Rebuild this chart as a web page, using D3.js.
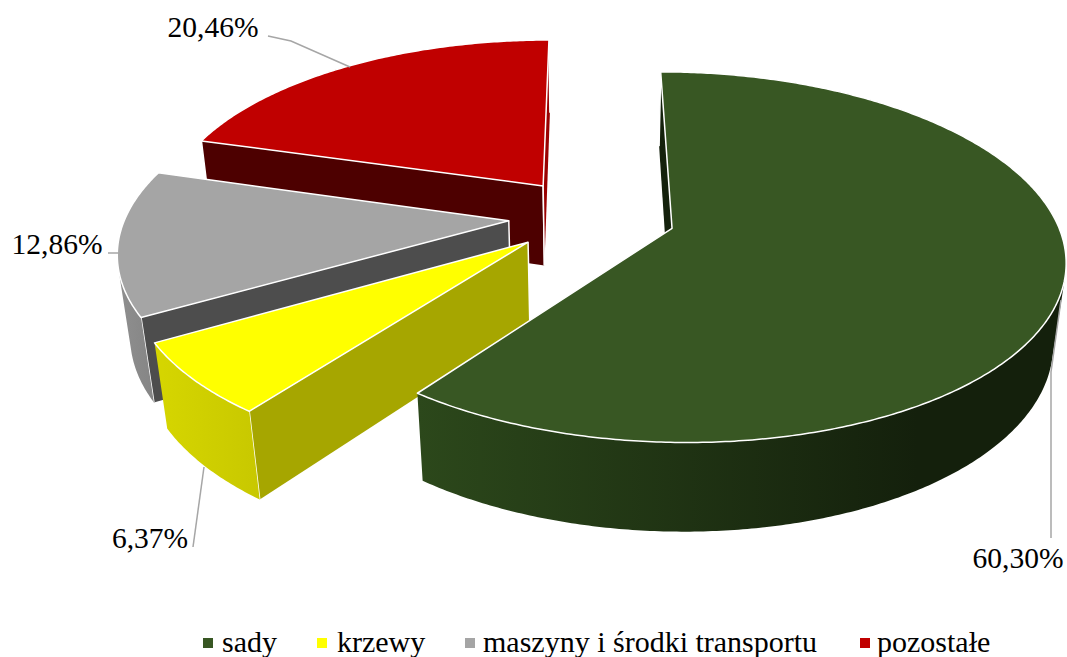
<!DOCTYPE html>
<html><head><meta charset="utf-8">
<script src="https://cdn.jsdelivr.net/npm/d3@7/dist/d3.min.js"></script>
<style>html,body{margin:0;padding:0;background:#fff}svg{display:block}text{font-family:"Liberation Serif","Times New Roman",serif;fill:#000}</style>
</head><body><div id="chart"></div>
<script>
const categories = ["sady","krzewy","maszyny i środki transportu","pozostałe"];
const values = [60.30,6.37,12.86,20.46];
const valueLabels = ["60,30%","6,37%","12,86%","20,46%"];
const topColors = ["#385723","#ffff00","#a5a5a5","#c00000"];
const legendColors = ["#385723","#ffff00","#a5a5a5","#c00000"];
const startCutColors = ["#14210c","#a6a600","#4d4d4d","#4d0000"];
const endCutColors = ["#14210c","#a6a600","#4d4d4d","#9a0000"];
const wallStops = [["#2c481b","#14200c"],["#d6d600","#c8c800"],["#8f8f8f","#858585"],["#8a0000","#8a0000"]];
const W=1067,H=657;
const startDeg=-0.1;
const cx=592, cy=216, A=383, B=177, p=0.154, q=0.027, D=83, ex=0.218;
const sx=d3.scaleLinear().domain([-1,1]).range([cx-A,cx+A]);
const sy=d3.scaleLinear().domain([-1,1]).range([cy+B,cy-B]);
const svg=d3.select("#chart").append("svg").attr("width",W).attr("height",H);
const defs=svg.append("defs");
const rad=Math.PI/180;
const pie=d3.pie().sort(null).value(d=>d).startAngle(startDeg*rad).endAngle(2*Math.PI+startDeg*rad);
const arcs=pie(values);
const line=d3.line();
function proj(a,r,d,m){
  const u=r*Math.sin(a)+ex*Math.sin(m), v=r*Math.cos(a)+ex*Math.cos(m);
  const w=1+p*v+q*d;
  return [sx(u/w), sy(v/w)+D*d/w];
}
function area(pts){return d3.polygonArea(pts);}
const order=[3,2,1,0];
const g=svg.append("g");
order.forEach(i=>{
  const s=arcs[i], m=(s.startAngle+s.endAngle)/2;
  const n=Math.max(8,Math.ceil((s.endAngle-s.startAngle)/0.01));
  const ang=d3.range(n+1).map(k=>s.startAngle+(s.endAngle-s.startAngle)*k/n);
  const topArc=ang.map(a=>proj(a,1,0,m));
  const apex=proj(0,0,0,m), apexB=proj(0,0,1,m);
  [[s.startAngle,1,startCutColors[i]],[s.endAngle,-1,endCutColors[i]]].forEach(([a,sign,col])=>{
    const q4=[apex,proj(a,1,0,m),proj(a,1,1,m),apexB];
    if(area(q4)*sign>0){
      g.append("path").attr("d",line(q4)+"Z").attr("fill",col);
      g.append("path").attr("d",line([apex,apexB])+line([proj(a,1,0,m),proj(a,1,1,m)])).attr("stroke","#fff").attr("stroke-width",1.5).attr("fill","none");
    }
  });
  const vis=[];
  for(let k=0;k<n;k++){
    const a0=ang[k],a1=ang[k+1];
    const qd=[proj(a0,1,0,m),proj(a1,1,0,m),proj(a1,1,1,m),proj(a0,1,1,m)];
    if(area(qd)>0) vis.push(k);
  }
  if(vis.length){
    const k0=vis[0],k1=vis[vis.length-1]+1;
    const tops=ang.slice(k0,k1+1).map(a=>proj(a,1,0,m));
    const bots=ang.slice(k0,k1+1).map(a=>proj(a,1,1,m)).reverse();
    const xs=tops.concat(bots).map(d=>d[0]);
    const id="wall"+i;
    const gr=defs.append("linearGradient").attr("id",id).attr("gradientUnits","userSpaceOnUse")
      .attr("x1",d3.min(xs)).attr("x2",i===0?d3.min(xs)+500:d3.max(xs)).attr("y1",0).attr("y2",0);
    gr.append("stop").attr("offset",0).attr("stop-color",wallStops[i][0]);
    gr.append("stop").attr("offset",1).attr("stop-color",wallStops[i][1]);
    g.append("path").attr("d",line(tops.concat(bots))+"Z").attr("fill",`url(#${id})`);
  }
  g.append("path").attr("d",line([apex].concat(topArc))+"Z").attr("fill",topColors[i])
   .attr("stroke","#fff").attr("stroke-width",1.5).attr("stroke-linejoin","round");
});
const labelAnchors=[[1018,568],[150,548],[57,254],[213,37]];
const leaders=[[[1051,538],[1051,372],[1061,300]],[[193,547],[204,467]],[[108,253],[120,253]],[[268,36],[291,41],[350,67]]];
const gl=svg.append("g");
leaders.forEach(pts=>gl.append("path").attr("d",line(pts)).attr("fill","none").attr("stroke","#a6a6a6").attr("stroke-width",1.5));
valueLabels.forEach((t,i)=>gl.append("text").attr("x",labelAnchors[i][0]).attr("y",labelAnchors[i][1]).attr("text-anchor","middle").attr("font-size",29.5).text(t));
const legendX=[203,317,465,860], textX=[222,337,483,877];
const lg=svg.append("g");
categories.forEach((c,i)=>{
  lg.append("rect").attr("x",legendX[i]).attr("y",638).attr("width",10).attr("height",10).attr("fill",legendColors[i]);
  lg.append("text").attr("x",textX[i]).attr("y",652).attr("font-size",30).text(c);
});
</script></body></html>
